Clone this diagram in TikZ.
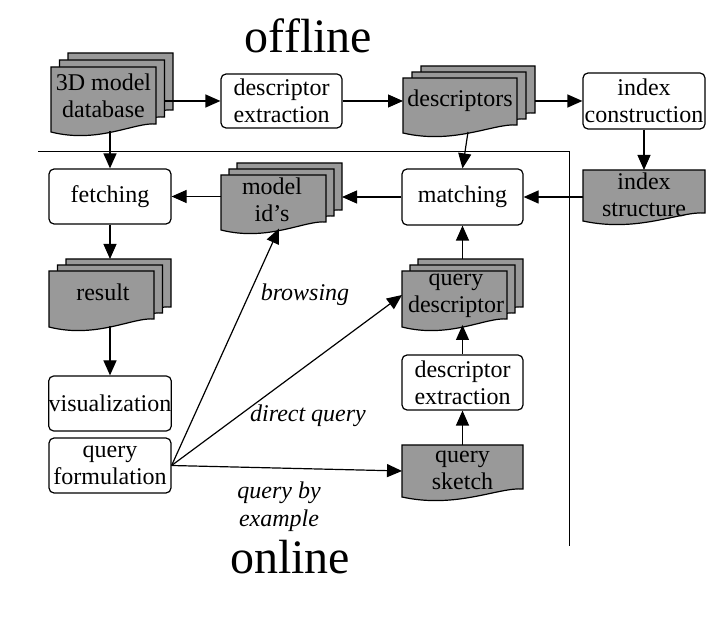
\documentclass[tikz,border=0pt]{standalone}
\usepackage{fontspec}
\setmainfont{Liberation Serif}
\usetikzlibrary{arrows.meta,calc}
\definecolor{docgray}{RGB}{153,153,153}
\tikzset{
  box/.style={draw, rounded corners=5pt, line width=1.2pt, fill=white, align=center,
    font=\fontsize{24}{27}\selectfont, inner sep=0pt},
  docp/.style={draw, fill=docgray, line width=1.2pt},
  hold/.style={inner sep=0pt, outer sep=0pt, draw=none, rectangle},
  doctext/.style={align=center, font=\fontsize{24}{27}\selectfont, inner sep=0pt},
  conn/.style={-{Triangle[length=15pt,width=13pt]}, line width=1.2pt},
  lab/.style={font=\fontsize{24}{28}\selectfont\itshape, align=center, inner sep=0pt},
  bigtitle/.style={font=\fontsize{48}{50}\selectfont, anchor=base, inner sep=0pt},
  sepline/.style={line width=1pt},
}
\newcommand\docshape[4]{%
  \pgfmathsetmacro\docXa{#1}\pgfmathsetmacro\docYa{#2}%
  \pgfmathsetmacro\docXb{#3}\pgfmathsetmacro\docYb{#4}%
  \pgfmathsetmacro\docWt{\docXb-\docXa}%
  \path[docp] (\docXa,\docYa) -- (\docXb,\docYa) -- (\docXb,\docYb-8)
    .. controls (\docXa+0.8*\docWt,\docYb-10) and (\docXa+0.45*\docWt,\docYb+12) .. (\docXa,\docYb) -- cycle;}
\newcommand\holdnode[5]{%
  \pgfmathsetmacro\hXa{#2}\pgfmathsetmacro\hYa{#3}%
  \pgfmathsetmacro\hXb{#4}\pgfmathsetmacro\hYb{#5}%
  \pgfmathsetmacro\hWd{\hXb-\hXa}\pgfmathsetmacro\hHt{\hYb-\hYa}%
  \pgfmathsetmacro\hCx{(\hXa+\hXb)/2}\pgfmathsetmacro\hCy{(\hYa+\hYb)/2}%
  \node[hold, minimum width=\hWd pt, minimum height=\hHt pt] (#1) at (\hCx,\hCy) {};}
% name, x0, y0, x1, yL, dx, dy (up)
\newcommand\stackdoc[7]{%
  \docshape{#2+2*#6}{#3-2*#7}{#4+2*#6}{#5-2*#7}%
  \docshape{#2+#6}{#3-#7}{#4+#6}{#5-#7}%
  \docshape{#2}{#3}{#4}{#5}%
  \holdnode{#1b}{#2+2*#6}{#3-2*#7}{#4+2*#6}{#5-2*#7}%
  \holdnode{#1m}{#2+#6}{#3-#7}{#4+#6}{#5-#7}%
  \holdnode{#1}{#2}{#3}{#4}{#5}}
\newcommand\singledoc[5]{%
  \docshape{#2}{#3}{#4}{#5}%
  \holdnode{#1}{#2}{#3}{#4}{#5}}
\begin{document}
\begin{tikzpicture}[x=1pt,y=-1pt]
\useasboundingbox (0,0) rectangle (724,620);

% separators
\coordinate (sepL) at (38,152);
\coordinate (sepC) at (569,152);
\coordinate (sepB) at (569,546);
\draw[sepline] (sepL) -- (sepC) -- (sepB);

% titles
\node[bigtitle] (offline) at (308.5,53) {offline};
\node[bigtitle] (online) at (290,574) {online};

% document shapes
\stackdoc{db}{51}{67}{156}{132}{8.5}{7}
\stackdoc{desc}{403}{78}{517}{133}{9}{6}
\stackdoc{mid}{221}{175}{326}{230}{8}{6}
\stackdoc{res}{49}{271}{154}{327}{8.5}{6}
\stackdoc{qd}{402}{271}{507}{327}{8}{6}
\singledoc{idxs}{583}{170}{705}{221}
\singledoc{qs}{402}{445}{523}{497}

% document texts
\node[doctext] (dbT) at (103.5,96) {3D model\\database};
\node[doctext] (descT) at (460,101) {descriptors};
\node[doctext] (midT) at (272,200) {model\\id's};
\node[doctext] (resT) at (103,292) {result};
\node[doctext] (qdT) at (456,296) {query\\descriptor};
\node[doctext] (idxsT) at (644,195) {index\\structure};
\node[doctext] (qsT) at (462.5,470) {query\\sketch};

% process boxes
\node[box, minimum width=121pt, minimum height=54pt] (dex1) at (281.5,101) {descriptor\\extraction};
\node[box, minimum width=122pt, minimum height=56pt] (idxc) at (644,101) {index\\construction};
\node[box, minimum width=121pt, minimum height=56pt] (match) at (462.5,197) {matching};
\node[box, minimum width=122pt, minimum height=55pt] (fetch) at (110,196.5) {fetching};
\node[box, minimum width=122pt, minimum height=55pt] (vis) at (110,403.5) {visualization};
\node[box, minimum width=122pt, minimum height=55pt] (qform) at (110,465.5) {query\\formulation};
\node[box, minimum width=121pt, minimum height=55pt] (dex2) at (462.5,382.5) {descriptor\\extraction};

% connectors
\draw[conn] (dbm.east |- dex1.west) -- (dex1.west);
\draw[conn] (dex1.east) -- (dex1.east -| desc.west);
\draw[conn] (descb.east |- idxc.west) -- (idxc.west);
\draw[conn] (idxc.south) -- (idxs.north);
\draw[conn] (idxs.west |- match.east) -- (match.east);
\draw[conn] ($(desc.south)+(8,-1)$) -- (match.north);
\draw[conn] (match.west) -- (match.west -| midb.east);
\draw[conn] (mid.west |- fetch.east) -- (fetch.east);
\draw[conn] ($(fetch.north |- db.south)+(0,-1)$) -- (fetch.north);
\draw[conn] (fetch.south) -- (fetch.south |- resb.north);
\draw[conn] ($(vis.north |- res.south)+(0,-1)$) -- (vis.north);
\draw[conn] (qs.north) -- (dex2.south);
\draw[conn] (dex2.north) -- ($(dex2.north |- qd.south)+(0,-2)$);
\draw[conn] (match.south |- qdb.north) -- (match.south);
\draw[conn] (qform.east) -- ($(mid.south)+(5.5,-1.5)$);
\draw[conn] (qform.east) -- ($(qd.west)+(0,-4)$);
\draw[conn] (qform.east) -- (qs.west);

% labels
\node[lab] (lbrow) at (305,295) {browsing};
\node[lab] (ldir) at (308,416) {direct query};
\node[lab] (lqbe) at (279,507) {query by\\example};
\end{tikzpicture}
\end{document}
